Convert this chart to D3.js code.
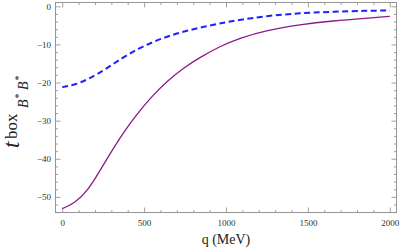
<!DOCTYPE html>
<html>
<head>
<meta charset="utf-8">
<script src="https://cdn.jsdelivr.net/npm/d3@7"></script>
<style>
  html, body { margin: 0; padding: 0; background: #fff; }
  svg { display: block; }
</style>
</head>
<body>
<script>
// momentum q (MeV) and the two box amplitudes
var qSolid  = [0, 79, 160, 221, 282, 364, 445, 547, 648, 750, 841, 963, 1085, 1248, 1451, 1654, 1858, 2000];
var tSolid  = [-53.1, -51.6, -48.1, -43.8, -39.4, -33.7, -28.9, -23.6, -19.3, -15.9, -13.4, -10.5, -8.3, -6.3, -4.8, -3.8, -3.1, -2.65];
var qDashed = [0, 79, 160, 262, 364, 465, 567, 669, 770, 872, 974, 1044, 1248, 1451, 1654, 1858, 2000];
var tDashed = [-21.2, -20.6, -19.1, -16.6, -13.6, -11.1, -9.1, -7.5, -6.3, -5.3, -4.4, -3.8, -2.5, -1.8, -1.4, -1.15, -1.1];
var xTicks = [0, 500, 1000, 1500, 2000];
var yTicks = [-50, -40, -30, -20, -10, 0];

window.onload = function(){

    var W = 400, H = 250;
    var m = {left: 55.5, right: 3.5, top: 2.5, bottom: 37.5};

    var svg = d3.select(document.body).append('svg')
        .attr('width', W).attr('height', H);

    var x = d3.scaleLinear().domain([-41, 2041]).range([m.left, W - m.right]);
    var y = d3.scaleLinear().domain([-54.1, 1.0]).range([H - m.bottom, m.top]);

    var frameColor = '#8a8a8a';
    var font = '"Liberation Serif", "Times New Roman", serif';
    var minus = function(d){ return d < 0 ? '\u2212' + Math.abs(d) : String(d); };

    var xMinor = d3.range(0, 2001, 100).filter(function(d){ return d % 500 !== 0; });
    var yMinor = d3.range(-54, 1, 2).filter(function(d){ return d % 10 !== 0; });

    function styleAxis(g){
        g.select('.domain').remove();
        g.selectAll('line').attr('stroke', frameColor).attr('stroke-width', 0.8);
        g.selectAll('text').attr('fill', '#333').style('font-family', font).style('font-size', '9px');
    }

    // bottom
    svg.append('g').attr('transform', 'translate(0,' + (H - m.bottom) + ')')
        .call(d3.axisBottom(x).tickValues(xTicks).tickSize(-5).tickPadding(7).tickFormat(d3.format('d')))
        .call(styleAxis);
    svg.append('g').attr('transform', 'translate(0,' + (H - m.bottom) + ')')
        .call(d3.axisBottom(x).tickValues(xMinor).tickSize(-2.5).tickFormat(''))
        .call(styleAxis);
    // top
    svg.append('g').attr('transform', 'translate(0,' + m.top + ')')
        .call(d3.axisTop(x).tickValues(xTicks).tickSize(-5).tickFormat(''))
        .call(styleAxis);
    svg.append('g').attr('transform', 'translate(0,' + m.top + ')')
        .call(d3.axisTop(x).tickValues(xMinor).tickSize(-2.5).tickFormat(''))
        .call(styleAxis);
    // left
    svg.append('g').attr('transform', 'translate(' + m.left + ',0)')
        .call(d3.axisLeft(y).tickValues(yTicks).tickSize(-5).tickPadding(4.5).tickFormat(minus))
        .call(styleAxis);
    svg.append('g').attr('transform', 'translate(' + m.left + ',0)')
        .call(d3.axisLeft(y).tickValues(yMinor).tickSize(-2.5).tickFormat(''))
        .call(styleAxis);
    // right
    svg.append('g').attr('transform', 'translate(' + (W - m.right) + ',0)')
        .call(d3.axisRight(y).tickValues(yTicks).tickSize(-5).tickFormat(''))
        .call(styleAxis);
    svg.append('g').attr('transform', 'translate(' + (W - m.right) + ',0)')
        .call(d3.axisRight(y).tickValues(yMinor).tickSize(-2.5).tickFormat(''))
        .call(styleAxis);

    // frame
    svg.append('rect')
        .attr('x', m.left).attr('y', m.top)
        .attr('width', W - m.left - m.right).attr('height', H - m.top - m.bottom)
        .attr('fill', 'none').attr('stroke', frameColor).attr('stroke-width', 0.9);

    var line = d3.line()
        .x(function(d){ return x(d[0]); })
        .y(function(d){ return y(d[1]); })
        .curve(d3.curveBasis);

    svg.append('path')
        .datum(d3.zip(qSolid, tSolid))
        .attr('d', line)
        .attr('fill', 'none').attr('stroke', '#8b1a8b').attr('stroke-width', 1.3);

    svg.append('path')
        .datum(d3.zip(qDashed, tDashed))
        .attr('d', line)
        .attr('fill', 'none').attr('stroke', '#1f1fff').attr('stroke-width', 2)
        .attr('stroke-dasharray', '6,3.5');

    // x label
    svg.append('text')
        .attr('x', (m.left + W - m.right) / 2).attr('y', 244)
        .attr('text-anchor', 'middle')
        .style('font-family', font).style('font-size', '14px').attr('fill', '#222')
        .text('q (MeV)');

    // y label  t^box_{B* B*}
    var yl = svg.append('text')
        .attr('transform', 'rotate(-90)')
        .style('font-family', font).attr('fill', '#222');
    yl.append('tspan').attr('x', -148).attr('y', 19)
        .style('font-size', '23px').style('font-style', 'italic').text('t');
    yl.append('tspan').attr('x', -139).attr('y', 17)
        .style('font-size', '17px').text('box');
    yl.append('tspan').attr('x', -108).attr('y', 28)
        .style('font-size', '14px').style('font-style', 'italic').text('B');
    yl.append('tspan').attr('x', -98.5).attr('y', 22)
        .style('font-size', '10px').text('*');
    yl.append('tspan').attr('x', -90).attr('y', 28)
        .style('font-size', '14px').style('font-style', 'italic').text('B');
    yl.append('tspan').attr('x', -80.5).attr('y', 22)
        .style('font-size', '10px').text('*');
};
</script>
</body>
</html>
